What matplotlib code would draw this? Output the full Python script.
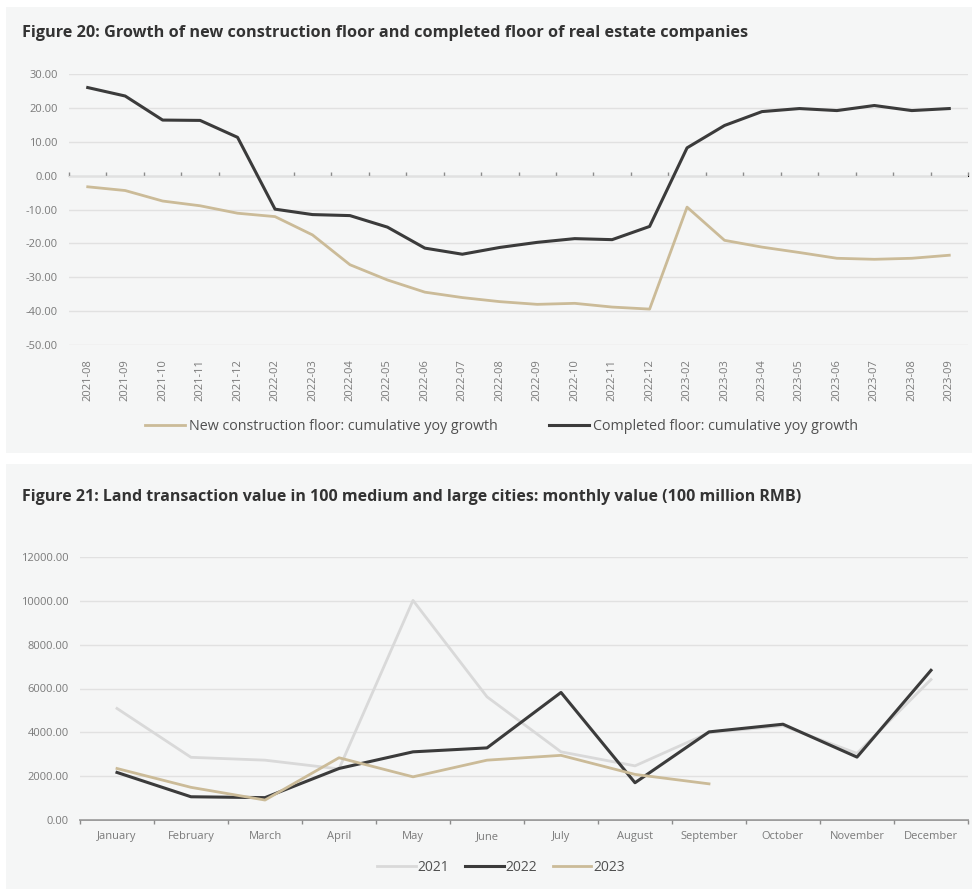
import matplotlib
matplotlib.use("Agg")
import matplotlib.pyplot as plt
from matplotlib.patches import Rectangle
import numpy as np

plt.rcParams['font.family'] = ['Open Sans', 'DejaVu Sans']

# ---- Figure 20 data ----
months20 = ['2021-08', '2021-09', '2021-10', '2021-11', '2021-12',
            '2022-02', '2022-03', '2022-04', '2022-05', '2022-06', '2022-07',
            '2022-08', '2022-09', '2022-10', '2022-11', '2022-12',
            '2023-02', '2023-03', '2023-04', '2023-05', '2023-06', '2023-07',
            '2023-08', '2023-09']
new_construction = [-3.3, -4.4, -7.5, -8.9, -11.1,
                    -12.1, -17.5, -26.3, -30.8, -34.4, -36.0,
                    -37.2, -38.0, -37.7, -38.8, -39.4,
                    -9.3, -19.1, -21.1, -22.7, -24.4, -24.7,
                    -24.4, -23.5]
completed = [26.0, 23.5, 16.4, 16.3, 11.3,
             -9.9, -11.5, -11.8, -15.2, -21.4, -23.2,
             -21.2, -19.7, -18.6, -18.9, -15.0,
             8.2, 14.8, 18.9, 19.8, 19.2, 20.7,
             19.2, 19.8]

# ---- Figure 21 data ----
months21 = ['January', 'February', 'March', 'April', 'May', 'June', 'July',
            'August', 'September', 'October', 'November', 'December']
land_2021 = [5090, 2860, 2730, 2330, 10020, 5620, 3110, 2470, 3980, 4300, 3040, 6410]
land_2022 = [2170, 1060, 1020, 2350, 3110, 3290, 5820, 1700, 4020, 4370, 2870, 6830]
land_2023 = [2350, 1490, 910, 2840, 1970, 2730, 2950, 2080, 1650]

DARK = '#3b3b3b'
TAN = '#cbbb98'
LIGHT = '#d9d9d9'
BG = '#f5f6f6'
GRID = '#e1e1e1'
TICKC = '#7a7a7a'
AXISC = '#8c8c8c'

W, H = 974, 889
fig = plt.figure(figsize=(W / 100, H / 100), dpi=100)
fig.patch.set_facecolor('white')

def px_rect(x0, y0, x1, y1):
    return [x0 / W, 1 - y1 / H, (x1 - x0) / W, (y1 - y0) / H]

# panel backgrounds
for (x0, y0, x1, y1) in [(6, 7, 972, 453), (6, 464, 972, 889)]:
    r = px_rect(x0, y0, x1, y1)
    fig.patches.append(Rectangle((r[0], r[1]), r[2], r[3], transform=fig.transFigure,
                                 facecolor=BG, edgecolor='none', zorder=-10))

def style_axes(ax):
    ax.set_facecolor('none')
    ax.set_zorder(1)
    for s in ax.spines.values():
        s.set_visible(False)
    ax.grid(axis='y', color=GRID, linewidth=1)
    ax.set_axisbelow(True)
    ax.tick_params(axis='y', length=0, labelsize=8, labelcolor=TICKC, pad=8)
    ax.yaxis.set_major_formatter(matplotlib.ticker.FormatStrFormatter('%.2f'))

# ---- top chart ----
ax1 = fig.add_axes(px_rect(69, 74, 968, 345))
style_axes(ax1)
x1 = np.arange(len(months20))
ax1.plot(x1, new_construction, color=TAN, linewidth=2.0,
         label='New construction floor: cumulative yoy growth')
ax1.plot(x1, completed, color=DARK, linewidth=2.2,
         label='Completed floor: cumulative yoy growth')
ax1.set_ylim(-50, 30)
ax1.set_yticks(np.arange(-50, 31, 10))
ax1.set_xlim(-0.5, len(months20) - 0.5)
ax1.set_xticks(x1)
ax1.set_xticklabels(months20, rotation=90, fontsize=8, color=TICKC)
ax1.tick_params(axis='x', length=0, pad=10)
ymin, ymax = ax1.get_ylim()
zero = ax1.secondary_xaxis((0 - ymin) / (ymax - ymin))
zero.spines['bottom'].set_color(AXISC)
zero.spines['bottom'].set_linewidth(1.2)
zero.set_xticks(np.arange(-0.5, len(months20), 1))
zero.set_xticklabels([])
zero.tick_params(axis='x', length=3, color=AXISC, labelbottom=False, width=1)
leg1 = ax1.legend(loc='upper center', bbox_to_anchor=(0.481, -0.225), ncol=2, frameon=False,
                  fontsize=10.3, handlelength=2.8, columnspacing=3.6, handletextpad=0.25)
for t in leg1.get_texts():
    t.set_color('#505050')
fig.text(22 / W, 1 - 33 / H,
         'Figure 20: Growth of new construction floor and completed floor of real estate companies',
         fontsize=11.7, fontweight='bold', color='#333333', va='center', ha='left')

# ---- bottom chart ----
ax2 = fig.add_axes(px_rect(80, 557, 968, 820))
style_axes(ax2)
x2 = np.arange(len(months21))
ax2.plot(x2, land_2021, color=LIGHT, linewidth=2.0, label='2021')
ax2.plot(x2, land_2022, color=DARK, linewidth=2.2, label='2022')
ax2.plot(np.arange(len(land_2023)), land_2023, color=TAN, linewidth=2.0, label='2023')
ax2.set_ylim(0, 12000)
ax2.set_yticks(np.arange(0, 12001, 2000))
ax2.set_xlim(-0.5, len(months21) - 0.5)
ax2.set_xticks(x2)
ax2.set_xticklabels(months21, fontsize=8, color=TICKC)
ax2.tick_params(axis='x', length=0, pad=8)
base = ax2.secondary_xaxis(0)
base.spines['bottom'].set_color(AXISC)
base.spines['bottom'].set_linewidth(1.2)
base.set_xticks(np.arange(-0.5, len(months21), 1))
base.set_xticklabels([])
base.tick_params(axis='x', length=3, color=AXISC, labelbottom=False, width=1)
leg2 = ax2.legend(loc='upper center', bbox_to_anchor=(0.474, -0.105), ncol=3, frameon=False,
                  fontsize=10, handlelength=2.8, columnspacing=1.1, handletextpad=0.15)
for t in leg2.get_texts():
    t.set_color('#505050')
fig.text(22 / W, 1 - 497 / H,
         'Figure 21: Land transaction value in 100 medium and large cities: monthly value (100 million RMB)',
         fontsize=11.5, fontweight='bold', color='#333333', va='center', ha='left')

fig.savefig('out.png', dpi=100, facecolor=fig.get_facecolor())
